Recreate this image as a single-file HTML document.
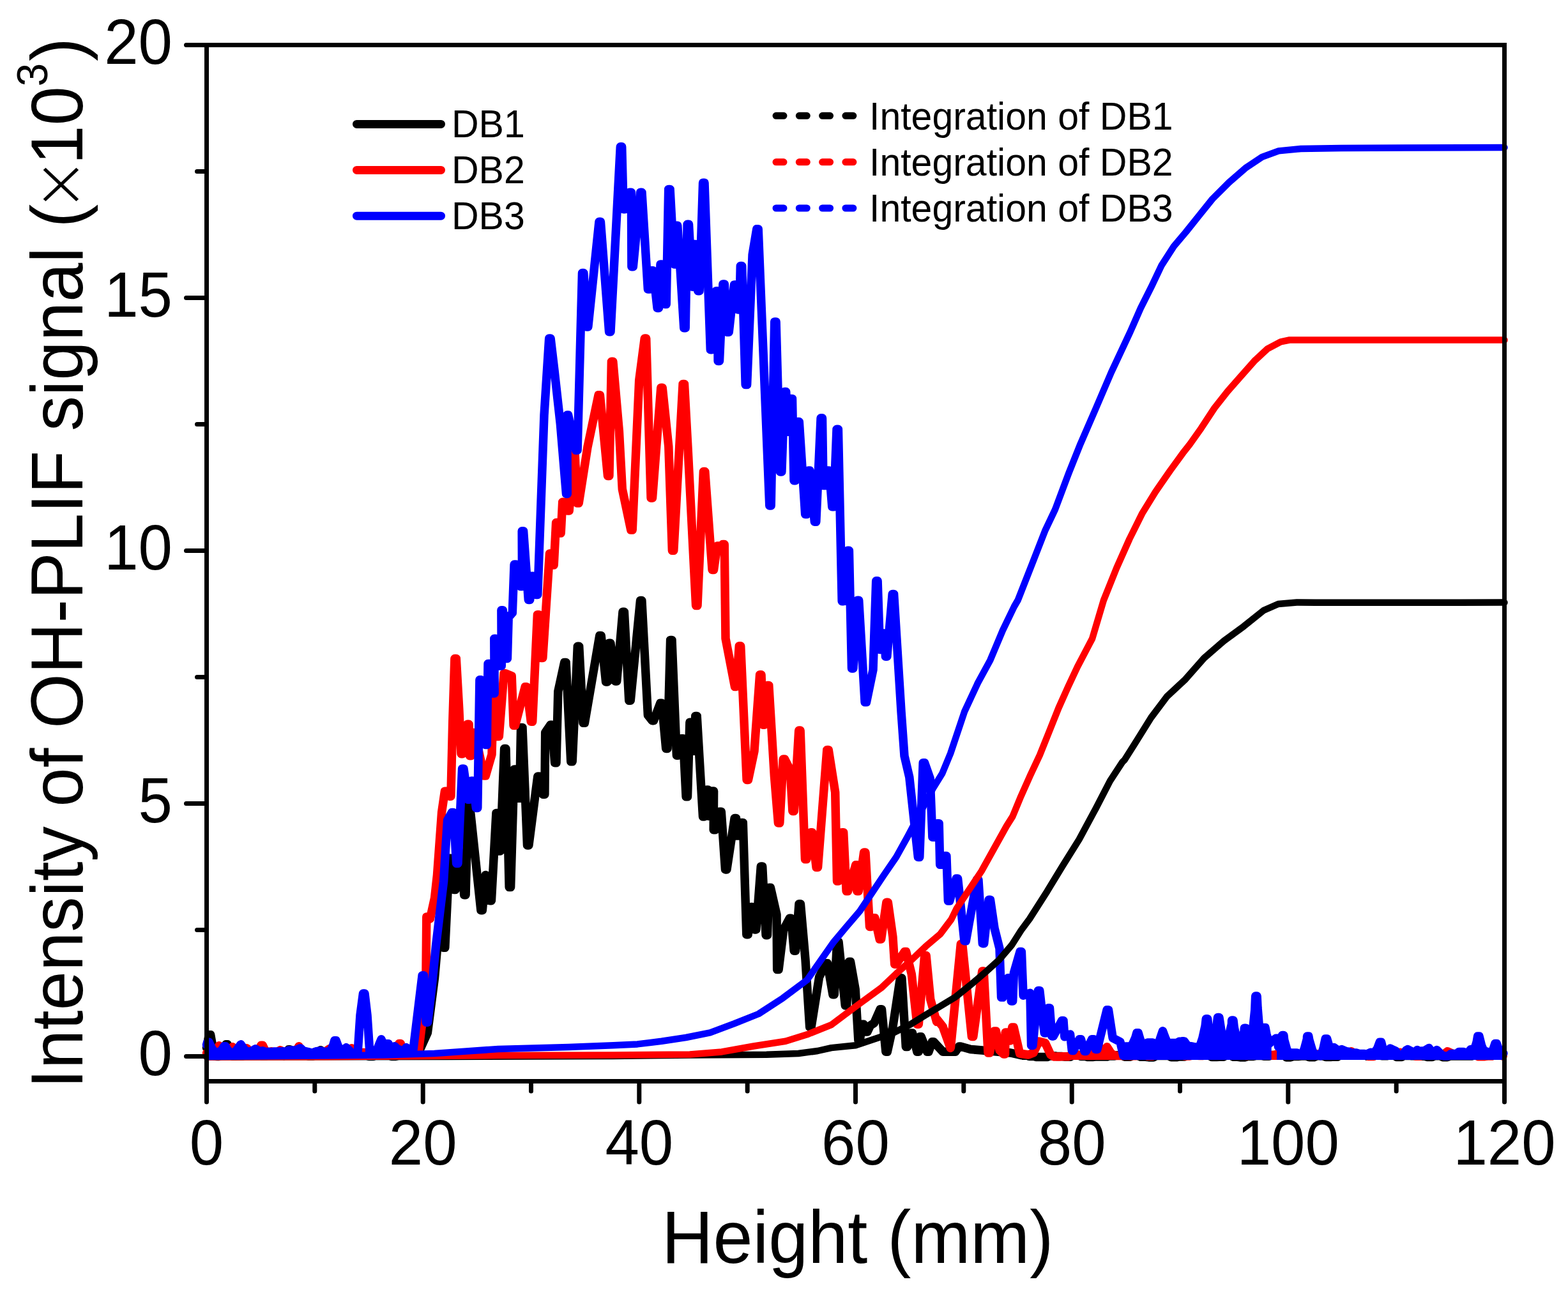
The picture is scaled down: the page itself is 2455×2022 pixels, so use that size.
<!DOCTYPE html><html><head><meta charset="utf-8"><style>html,body{margin:0;padding:0;background:#fff;}svg{display:block}</style></head><body>
<svg width="2455" height="2022" viewBox="0 0 2455 2022" xmlns="http://www.w3.org/2000/svg" font-family="'Liberation Sans', Arial, sans-serif">
<rect width="2455" height="2022" fill="#fff"/>
<path d="M323.5 1641.1 L328.5 1620.8 L332.5 1637.0 L336.5 1654.3 L340.1 1654.4 L343.3 1654.4 L347.5 1651.1 L351.5 1643.0 L355.0 1635.8 L359.7 1646.6 L364.1 1654.2 L367.8 1654.2 L372.3 1654.0 L376.6 1654.0 L380.5 1654.0 L384.5 1652.6 L388.8 1652.6 L392.3 1652.6 L396.4 1652.4 L400.9 1652.4 L404.5 1652.4 L409.0 1653.5 L413.3 1653.5 L417.9 1653.5 L421.6 1652.0 L425.0 1652.0 L429.4 1652.0 L433.9 1650.4 L437.8 1650.4 L441.2 1650.4 L444.7 1653.7 L448.9 1648.8 L453.0 1643.8 L457.3 1647.8 L461.5 1651.3 L465.0 1651.3 L469.2 1652.4 L473.0 1652.4 L477.7 1652.4 L482.4 1653.9 L486.4 1653.9 L490.6 1653.9 L494.9 1650.2 L499.4 1646.7 L502.0 1644.8 L504.2 1646.4 L507.4 1648.4 L511.2 1650.1 L515.4 1650.1 L519.0 1650.6 L523.2 1650.6 L526.5 1650.6 L531.1 1652.9 L535.2 1652.9 L538.6 1652.9 L542.8 1651.8 L546.5 1651.8 L550.0 1651.8 L554.0 1651.3 L557.4 1651.3 L561.0 1651.3 L565.6 1652.3 L569.9 1652.3 L573.1 1652.3 L577.5 1654.6 L580.8 1654.6 L584.5 1654.6 L589.1 1651.3 L593.3 1651.3 L597.0 1651.3 L600.8 1652.1 L604.7 1652.1 L608.1 1652.1 L612.9 1654.4 L616.1 1654.4 L620.0 1654.4 L624.4 1653.1 L628.3 1653.1 L633.0 1653.1 L636.6 1651.3 L636.6 1660.0 L323.5 1660.0 Z" fill="#000"/>
<path d="M1600.0 1652.8 L1603.7 1652.8 L1607.2 1652.8 L1611.4 1654.5 L1614.7 1654.5 L1618.8 1654.5 L1622.6 1655.6 L1625.9 1655.6 L1629.9 1655.6 L1633.1 1655.4 L1637.0 1655.4 L1640.3 1655.4 L1643.7 1653.9 L1647.6 1653.9 L1652.1 1653.9 L1655.5 1654.6 L1659.0 1654.6 L1663.2 1654.6 L1668.0 1655.2 L1672.1 1655.2 L1675.9 1655.2 L1680.7 1652.3 L1683.9 1652.3 L1688.5 1652.3 L1692.2 1654.6 L1695.6 1654.6 L1699.0 1654.6 L1702.7 1655.6 L1707.2 1655.6 L1710.7 1655.6 L1714.8 1655.1 L1719.0 1655.1 L1722.8 1655.1 L1726.9 1655.0 L1730.2 1655.0 L1733.5 1655.0 L1737.0 1653.9 L1741.3 1653.9 L1745.2 1653.9 L1748.9 1652.7 L1753.1 1652.7 L1757.0 1652.7 L1760.7 1655.2 L1765.1 1655.2 L1769.4 1655.2 L1773.0 1653.3 L1777.2 1653.3 L1781.2 1653.3 L1785.8 1655.2 L1790.2 1655.2 L1793.8 1655.2 L1798.6 1655.9 L1802.0 1655.9 L1805.9 1655.9 L1810.3 1653.6 L1813.7 1653.6 L1817.7 1653.6 L1821.0 1653.6 L1825.2 1653.6 L1829.6 1653.6 L1833.8 1655.8 L1838.4 1655.8 L1842.1 1655.8 L1846.4 1654.9 L1850.5 1654.9 L1854.7 1654.9 L1858.6 1652.7 L1863.1 1652.7 L1867.8 1652.7 L1871.8 1652.5 L1876.1 1652.5 L1879.4 1652.5 L1883.7 1652.6 L1887.9 1652.6 L1892.7 1652.6 L1897.2 1655.6 L1900.9 1655.6 L1904.7 1655.6 L1909.0 1655.2 L1912.2 1655.2 L1916.1 1655.2 L1919.6 1652.6 L1923.0 1652.6 L1926.3 1652.6 L1930.7 1655.3 L1934.1 1655.3 L1937.7 1655.3 L1941.5 1655.9 L1946.1 1655.9 L1949.5 1655.9 L1953.4 1654.6 L1957.5 1654.6 L1962.1 1654.6 L1966.6 1653.4 L1971.2 1653.4 L1974.8 1653.4 L1978.7 1654.2 L1982.5 1654.2 L1987.1 1654.2 L1991.8 1652.5 L1995.2 1652.5 L1998.7 1652.5 L2002.3 1652.1 L2005.9 1652.1 L2009.8 1652.1 L2014.0 1655.9 L2017.6 1655.9 L2020.8 1655.9 L2024.7 1654.6 L2028.5 1654.6 L2032.6 1654.6 L2037.3 1654.1 L2041.6 1654.1 L2045.6 1654.1 L2049.8 1655.7 L2054.1 1655.7 L2057.4 1655.7 L2062.0 1653.7 L2066.5 1653.7 L2071.1 1653.7 L2075.6 1655.5 L2079.4 1655.5 L2083.2 1655.5 L2086.6 1655.3 L2090.8 1655.3 L2094.1 1655.3 L2097.4 1652.8 L2100.9 1652.8 L2104.4 1652.8 L2108.2 1653.0 L2111.4 1653.0 L2114.6 1653.0 L2118.1 1653.2 L2121.4 1653.2 L2125.2 1653.2 L2128.5 1653.0 L2133.1 1653.0 L2137.2 1653.0 L2140.7 1654.3 L2144.3 1654.3 L2148.0 1654.3 L2151.8 1653.0 L2155.2 1653.0 L2159.8 1653.0 L2164.6 1653.7 L2168.5 1653.7 L2172.5 1653.7 L2175.8 1652.5 L2179.2 1652.5 L2182.9 1652.5 L2186.6 1655.6 L2191.1 1655.6 L2194.5 1655.6 L2197.8 1653.4 L2202.5 1653.4 L2206.5 1653.4 L2210.0 1653.8 L2214.1 1653.8 L2217.3 1653.8 L2221.3 1654.3 L2226.1 1654.3 L2230.7 1654.3 L2235.0 1655.6 L2238.6 1655.6 L2242.4 1655.6 L2245.9 1653.7 L2250.3 1653.7 L2254.4 1653.7 L2258.8 1655.7 L2262.5 1655.7 L2266.1 1655.7 L2270.6 1654.0 L2275.4 1654.0 L2279.9 1654.0 L2284.4 1654.1 L2288.9 1654.1 L2293.3 1654.1 L2296.9 1654.1 L2300.9 1654.1 L2304.7 1654.1 L2307.9 1652.1 L2311.2 1652.1 L2314.8 1652.1 L2318.4 1653.8 L2322.7 1653.8 L2327.5 1653.8 L2331.4 1652.7 L2336.1 1652.7 L2340.9 1652.7 L2345.6 1652.0 L2349.4 1652.0 L2352.9 1652.0 L2352.9 1660.0 L1600.0 1660.0 Z" fill="#000"/>
<path d="M323.5 1641.1 L327.3 1620.8 L329.7 1620.8 L332.5 1637.0 L336.5 1654.3 L340.1 1654.4 L343.3 1654.4 L347.5 1651.1 L351.5 1643.0 L353.8 1635.8 L356.2 1635.8 L359.7 1646.6 L364.1 1654.2 L367.8 1654.2 L372.3 1654.0 L376.6 1654.0 L380.5 1654.0 L384.5 1652.6 L388.8 1652.6 L392.3 1652.6 L396.4 1652.4 L400.9 1652.4 L404.5 1652.4 L409.0 1653.5 L413.3 1653.5 L417.9 1653.5 L421.6 1652.0 L425.0 1652.0 L429.4 1652.0 L433.9 1650.4 L437.8 1650.4 L441.2 1650.4 L444.7 1653.7 L448.9 1648.8 L451.8 1643.8 L454.2 1643.8 L457.3 1647.8 L461.5 1651.3 L465.0 1651.3 L469.2 1652.4 L473.0 1652.4 L477.7 1652.4 L482.4 1653.9 L486.4 1653.9 L490.6 1653.9 L494.9 1650.2 L499.4 1646.7 L502.0 1644.8 L504.2 1646.4 L507.4 1648.4 L511.2 1650.1 L515.4 1650.1 L519.0 1650.6 L523.2 1650.6 L526.5 1650.6 L531.1 1652.9 L535.2 1652.9 L538.6 1652.9 L542.8 1651.8 L546.5 1651.8 L550.0 1651.8 L554.0 1651.3 L557.4 1651.3 L561.0 1651.3 L565.6 1652.3 L569.9 1652.3 L573.1 1652.3 L577.5 1654.6 L580.8 1654.6 L584.5 1654.6 L589.1 1651.3 L593.3 1651.3 L597.0 1651.3 L600.8 1652.1 L604.7 1652.1 L608.1 1652.1 L612.9 1654.4 L616.1 1654.4 L620.0 1654.4 L624.4 1653.1 L628.3 1653.1 L633.0 1653.1 L636.6 1651.3 L644.2 1650.6 L656.3 1646.6 L669.4 1617.4 L680.5 1531.7 L686.3 1465.2 L688.7 1465.2 L694.4 1484.3 L696.8 1484.3 L703.5 1344.2 L705.9 1344.2 L710.5 1393.6 L712.9 1393.6 L719.6 1336.1 L722.0 1336.1 L726.7 1401.7 L729.1 1401.7 L732.7 1257.5 L735.1 1257.5 L752.9 1425.8 L755.3 1425.8 L760.2 1370.4 L762.1 1371.4 L767.0 1410.7 L769.4 1410.7 L776.9 1273.4 L779.3 1273.4 L780.9 1332.9 L783.3 1332.9 L789.6 1172.6 L792.0 1172.6 L797.2 1389.6 L799.6 1389.6 L805.1 1204.9 L807.5 1204.9 L811.1 1250.2 L813.5 1250.2 L815.6 1139.4 L818.0 1139.4 L825.5 1324.0 L827.9 1324.0 L841.8 1216.0 L844.2 1216.0 L850.5 1244.2 L852.9 1244.2 L853.7 1147.4 L861.9 1135.3 L864.3 1135.3 L868.6 1194.8 L871.0 1194.8 L873.8 1082.9 L883.7 1037.5 L886.1 1037.5 L893.8 1192.8 L896.2 1192.8 L904.3 1012.3 L906.7 1012.3 L913.0 1132.3 L915.4 1132.3 L938.8 995.5 L941.2 995.5 L948.6 1068.0 L951.0 1068.0 L953.5 1007.2 L955.9 1007.2 L963.3 1067.0 L965.7 1067.0 L975.0 958.3 L977.4 958.3 L984.8 1097.3 L987.2 1097.3 L1002.5 940.6 L1004.9 940.6 L1014.4 1120.1 L1021.1 1128.7 L1023.5 1128.7 L1033.8 1101.3 L1036.2 1101.3 L1042.7 1172.4 L1045.1 1172.4 L1049.6 1002.4 L1052.0 1002.4 L1059.4 1183.2 L1061.8 1183.2 L1067.2 1156.7 L1069.6 1156.7 L1074.1 1247.8 L1076.5 1247.8 L1079.9 1131.2 L1082.3 1131.2 L1083.9 1176.3 L1086.3 1176.3 L1088.8 1121.4 L1091.2 1121.4 L1100.5 1279.1 L1102.9 1279.1 L1106.4 1237.0 L1108.8 1237.0 L1109.3 1278.2 L1111.7 1278.2 L1115.2 1239.0 L1117.6 1239.0 L1117.2 1299.7 L1119.6 1299.7 L1126.9 1271.3 L1129.3 1271.3 L1135.5 1361.9 L1137.9 1361.9 L1150.1 1281.5 L1152.5 1281.5 L1154.1 1309.0 L1156.5 1309.0 L1160.9 1288.4 L1163.3 1288.4 L1168.8 1463.7 L1171.2 1463.7 L1175.6 1420.6 L1178.0 1420.6 L1181.5 1455.9 L1183.9 1455.9 L1191.3 1357.0 L1193.7 1357.0 L1199.1 1464.7 L1201.5 1464.7 L1204.0 1390.3 L1206.4 1390.3 L1216.0 1432.4 L1216.7 1518.6 L1219.1 1518.6 L1226.8 1455.9 L1236.3 1438.3 L1238.7 1438.3 L1243.2 1489.2 L1245.6 1489.2 L1251.0 1415.7 L1253.4 1415.7 L1261.0 1502.9 L1267.7 1608.7 L1270.1 1608.7 L1282.6 1530.3 L1293.1 1508.8 L1295.5 1508.8 L1303.9 1557.7 L1306.3 1557.7 L1310.6 1475.0 L1313.0 1475.0 L1323.3 1574.9 L1325.7 1574.9 L1329.2 1506.3 L1331.6 1506.3 L1339.2 1549.4 L1343.9 1629.7 L1346.3 1629.7 L1349.7 1604.2 L1352.1 1604.2 L1355.6 1616.0 L1358.0 1616.0 L1362.7 1606.2 L1368.6 1602.3 L1378.1 1580.7 L1380.5 1580.7 L1386.9 1647.3 L1389.3 1647.3 L1397.9 1608.2 L1409.5 1531.8 L1411.9 1531.8 L1418.3 1639.5 L1420.7 1639.5 L1426.1 1618.0 L1428.5 1618.0 L1435.9 1647.3 L1438.3 1647.3 L1439.8 1623.8 L1442.2 1623.8 L1451.6 1647.3 L1454.0 1647.3 L1459.4 1631.7 L1461.8 1631.7 L1476.3 1647.3 L1495.9 1647.3 L1501.5 1639.0 L1503.9 1639.0 L1519.8 1643.5 L1537.6 1645.0 L1582.4 1649.0 L1600.0 1652.8 L1603.7 1652.8 L1607.2 1652.8 L1611.4 1654.5 L1614.7 1654.5 L1618.8 1654.5 L1622.6 1655.6 L1625.9 1655.6 L1629.9 1655.6 L1633.1 1655.4 L1637.0 1655.4 L1640.3 1655.4 L1643.7 1653.9 L1647.6 1653.9 L1652.1 1653.9 L1655.5 1654.6 L1659.0 1654.6 L1663.2 1654.6 L1668.0 1655.2 L1672.1 1655.2 L1675.9 1655.2 L1680.7 1652.3 L1683.9 1652.3 L1688.5 1652.3 L1692.2 1654.6 L1695.6 1654.6 L1699.0 1654.6 L1702.7 1655.6 L1707.2 1655.6 L1710.7 1655.6 L1714.8 1655.1 L1719.0 1655.1 L1722.8 1655.1 L1726.9 1655.0 L1730.2 1655.0 L1733.5 1655.0 L1737.0 1653.9 L1741.3 1653.9 L1745.2 1653.9 L1748.9 1652.7 L1753.1 1652.7 L1757.0 1652.7 L1760.7 1655.2 L1765.1 1655.2 L1769.4 1655.2 L1773.0 1653.3 L1777.2 1653.3 L1781.2 1653.3 L1785.8 1655.2 L1790.2 1655.2 L1793.8 1655.2 L1798.6 1655.9 L1802.0 1655.9 L1805.9 1655.9 L1810.3 1653.6 L1813.7 1653.6 L1817.7 1653.6 L1821.0 1653.6 L1825.2 1653.6 L1829.6 1653.6 L1833.8 1655.8 L1838.4 1655.8 L1842.1 1655.8 L1846.4 1654.9 L1850.5 1654.9 L1854.7 1654.9 L1858.6 1652.7 L1863.1 1652.7 L1867.8 1652.7 L1871.8 1652.5 L1876.1 1652.5 L1879.4 1652.5 L1883.7 1652.6 L1887.9 1652.6 L1892.7 1652.6 L1897.2 1655.6 L1900.9 1655.6 L1904.7 1655.6 L1909.0 1655.2 L1912.2 1655.2 L1916.1 1655.2 L1919.6 1652.6 L1923.0 1652.6 L1926.3 1652.6 L1930.7 1655.3 L1934.1 1655.3 L1937.7 1655.3 L1941.5 1655.9 L1946.1 1655.9 L1949.5 1655.9 L1953.4 1654.6 L1957.5 1654.6 L1962.1 1654.6 L1966.6 1653.4 L1971.2 1653.4 L1974.8 1653.4 L1978.7 1654.2 L1982.5 1654.2 L1987.1 1654.2 L1991.8 1652.5 L1995.2 1652.5 L1998.7 1652.5 L2002.3 1652.1 L2005.9 1652.1 L2009.8 1652.1 L2014.0 1655.9 L2017.6 1655.9 L2020.8 1655.9 L2024.7 1654.6 L2028.5 1654.6 L2032.6 1654.6 L2037.3 1654.1 L2041.6 1654.1 L2045.6 1654.1 L2049.8 1655.7 L2054.1 1655.7 L2057.4 1655.7 L2062.0 1653.7 L2066.5 1653.7 L2071.1 1653.7 L2075.6 1655.5 L2079.4 1655.5 L2083.2 1655.5 L2086.6 1655.3 L2090.8 1655.3 L2094.1 1655.3 L2097.4 1652.8 L2100.9 1652.8 L2104.4 1652.8 L2108.2 1653.0 L2111.4 1653.0 L2114.6 1653.0 L2118.1 1653.2 L2121.4 1653.2 L2125.2 1653.2 L2128.5 1653.0 L2133.1 1653.0 L2137.2 1653.0 L2140.7 1654.3 L2144.3 1654.3 L2148.0 1654.3 L2151.8 1653.0 L2155.2 1653.0 L2159.8 1653.0 L2164.6 1653.7 L2168.5 1653.7 L2172.5 1653.7 L2175.8 1652.5 L2179.2 1652.5 L2182.9 1652.5 L2186.6 1655.6 L2191.1 1655.6 L2194.5 1655.6 L2197.8 1653.4 L2202.5 1653.4 L2206.5 1653.4 L2210.0 1653.8 L2214.1 1653.8 L2217.3 1653.8 L2221.3 1654.3 L2226.1 1654.3 L2230.7 1654.3 L2235.0 1655.6 L2238.6 1655.6 L2242.4 1655.6 L2245.9 1653.7 L2250.3 1653.7 L2254.4 1653.7 L2258.8 1655.7 L2262.5 1655.7 L2266.1 1655.7 L2270.6 1654.0 L2275.4 1654.0 L2279.9 1654.0 L2284.4 1654.1 L2288.9 1654.1 L2293.3 1654.1 L2296.9 1654.1 L2300.9 1654.1 L2304.7 1654.1 L2307.9 1652.1 L2311.2 1652.1 L2314.8 1652.1 L2318.4 1653.8 L2322.7 1653.8 L2327.5 1653.8 L2331.4 1652.7 L2336.1 1652.7 L2340.9 1652.7 L2345.6 1652.0 L2349.4 1652.0 L2352.9 1652.0" fill="none" stroke="#000" stroke-width="13.5" stroke-linejoin="round" stroke-linecap="round"/>
<path d="M323.5 1649.4 L327.1 1649.4 L330.4 1649.4 L334.3 1652.8 L337.7 1647.7 L341.0 1641.5 L343.0 1637.8 L344.9 1641.1 L349.5 1649.3 L354.0 1651.9 L358.4 1646.9 L362.0 1642.3 L364.0 1639.8 L366.1 1642.4 L369.7 1649.0 L373.2 1652.7 L376.5 1652.7 L380.1 1649.2 L384.8 1643.8 L386.5 1641.8 L389.3 1645.0 L393.8 1651.2 L398.3 1652.1 L401.8 1652.1 L405.5 1644.2 L410.0 1637.2 L414.1 1643.4 L418.6 1648.5 L423.2 1647.2 L425.0 1646.8 L426.6 1647.2 L430.7 1649.2 L435.0 1647.3 L438.7 1644.8 L442.5 1646.6 L446.5 1648.6 L449.8 1648.7 L454.5 1649.9 L459.1 1649.9 L463.2 1645.5 L466.8 1640.8 L468.0 1638.8 L471.5 1644.9 L475.6 1652.1 L480.2 1649.7 L484.8 1649.7 L488.8 1649.7 L492.7 1648.0 L496.8 1648.0 L500.7 1648.0 L504.2 1648.2 L507.9 1648.1 L512.4 1645.0 L515.6 1642.8 L518.9 1645.3 L523.1 1648.5 L526.7 1651.9 L530.8 1651.9 L534.8 1651.9 L538.5 1649.8 L543.3 1649.2 L546.8 1645.7 L550.7 1641.8 L554.2 1645.1 L558.4 1649.2 L562.1 1648.5 L565.8 1648.5 L570.2 1648.5 L573.9 1652.9 L578.0 1652.9 L582.7 1652.9 L586.0 1650.1 L589.3 1650.1 L592.9 1650.1 L597.3 1649.0 L601.5 1649.0 L605.1 1649.0 L608.8 1648.3 L612.3 1648.3 L616.2 1648.3 L619.5 1648.3 L623.8 1643.1 L627.5 1638.8 L633.2 1645.9 L637.6 1648.8 L637.6 1660.0 L323.5 1660.0 Z" fill="#f00"/>
<path d="M1650.0 1654.9 L1654.2 1654.9 L1658.6 1654.9 L1663.1 1654.8 L1667.8 1654.8 L1672.1 1654.8 L1676.8 1652.6 L1680.1 1652.6 L1684.0 1652.6 L1688.7 1652.6 L1693.0 1652.6 L1697.6 1652.6 L1701.0 1650.8 L1704.9 1650.8 L1708.5 1650.8 L1712.6 1644.6 L1717.6 1628.8 L1719.9 1636.2 L1723.5 1647.8 L1727.1 1651.1 L1731.8 1642.4 L1733.2 1639.8 L1736.2 1644.5 L1739.7 1650.0 L1744.2 1652.4 L1747.6 1653.5 L1751.8 1653.5 L1755.2 1653.5 L1758.4 1653.6 L1763.0 1653.6 L1766.5 1653.6 L1770.0 1653.7 L1774.8 1653.7 L1779.4 1653.7 L1783.1 1650.9 L1787.8 1650.9 L1791.9 1650.9 L1796.2 1653.9 L1799.7 1653.9 L1804.4 1653.9 L1808.7 1650.4 L1814.4 1644.3 L1818.1 1648.3 L1821.8 1652.6 L1825.5 1653.3 L1829.0 1653.3 L1832.4 1652.1 L1835.7 1652.1 L1839.4 1652.1 L1843.6 1653.1 L1846.8 1653.1 L1851.1 1653.1 L1854.8 1653.9 L1858.5 1653.9 L1863.0 1653.9 L1867.0 1653.2 L1870.7 1653.2 L1874.7 1653.2 L1879.0 1653.6 L1882.3 1653.6 L1887.0 1650.8 L1890.3 1644.2 L1893.3 1640.7 L1894.7 1642.3 L1899.2 1647.7 L1902.5 1650.8 L1906.9 1650.8 L1910.7 1650.8 L1914.8 1652.2 L1918.0 1652.2 L1921.3 1652.2 L1924.8 1653.3 L1929.5 1653.3 L1933.1 1653.3 L1937.5 1651.1 L1942.1 1651.1 L1946.9 1651.1 L1950.6 1653.4 L1954.4 1653.4 L1958.4 1650.0 L1962.9 1641.1 L1964.7 1637.5 L1966.2 1640.5 L1970.6 1649.1 L1975.1 1650.2 L1979.7 1650.2 L1982.9 1650.2 L1987.6 1652.4 L1991.0 1652.4 L1994.7 1652.4 L1998.9 1651.1 L2003.6 1651.1 L2007.3 1651.1 L2012.0 1650.3 L2016.1 1650.3 L2019.8 1650.3 L2023.5 1650.7 L2027.0 1650.7 L2030.3 1650.7 L2033.7 1651.6 L2038.0 1651.6 L2042.8 1651.6 L2046.3 1650.9 L2049.6 1650.9 L2054.3 1650.9 L2058.4 1651.0 L2062.2 1651.0 L2065.8 1651.0 L2070.0 1650.2 L2074.5 1650.2 L2078.4 1650.2 L2082.3 1652.3 L2085.6 1652.3 L2090.3 1652.3 L2093.5 1651.9 L2097.5 1651.9 L2102.0 1651.9 L2105.5 1653.1 L2109.8 1651.5 L2114.5 1647.8 L2115.9 1646.8 L2118.8 1649.0 L2123.2 1652.4 L2126.6 1653.0 L2130.5 1651.2 L2133.9 1651.2 L2138.5 1651.2 L2142.1 1654.5 L2146.1 1654.5 L2150.9 1654.5 L2155.4 1650.0 L2160.2 1650.0 L2164.1 1650.0 L2168.1 1652.0 L2172.5 1652.0 L2176.4 1652.0 L2180.1 1651.4 L2183.9 1651.3 L2187.4 1649.9 L2191.8 1648.2 L2196.0 1650.2 L2200.7 1652.1 L2204.9 1650.6 L2208.9 1650.6 L2212.6 1650.6 L2216.0 1654.2 L2219.6 1654.2 L2224.1 1654.2 L2228.7 1651.9 L2232.4 1651.9 L2236.9 1651.9 L2241.3 1650.2 L2245.6 1650.2 L2249.9 1650.2 L2254.3 1653.1 L2258.1 1653.1 L2262.4 1649.7 L2266.2 1646.8 L2270.1 1648.5 L2274.5 1650.5 L2278.8 1652.7 L2282.5 1652.7 L2287.2 1652.7 L2291.4 1651.7 L2295.5 1651.7 L2298.8 1651.7 L2302.8 1652.9 L2306.4 1652.9 L2310.7 1652.9 L2314.7 1654.8 L2319.2 1654.8 L2323.4 1654.8 L2327.9 1654.1 L2331.6 1654.1 L2335.9 1654.1 L2340.2 1652.1 L2344.8 1652.1 L2348.5 1652.1 L2353.1 1654.1 L2353.1 1660.0 L1650.0 1660.0 Z" fill="#f00"/>
<path d="M323.5 1649.4 L327.1 1649.4 L330.4 1649.4 L334.3 1652.8 L337.7 1647.7 L341.0 1641.5 L343.0 1637.8 L344.9 1641.1 L349.5 1649.3 L354.0 1651.9 L358.4 1646.9 L362.0 1642.3 L364.0 1639.8 L366.1 1642.4 L369.7 1649.0 L373.2 1652.7 L376.5 1652.7 L380.1 1649.2 L384.8 1643.8 L386.5 1641.8 L389.3 1645.0 L393.8 1651.2 L398.3 1652.1 L401.8 1652.1 L405.5 1644.2 L408.8 1637.2 L411.2 1637.2 L414.1 1643.4 L418.6 1648.5 L423.2 1647.2 L425.0 1646.8 L426.6 1647.2 L430.7 1649.2 L435.0 1647.3 L438.7 1644.8 L442.5 1646.6 L446.5 1648.6 L449.8 1648.7 L454.5 1649.9 L459.1 1649.9 L463.2 1645.5 L466.8 1640.8 L468.0 1638.8 L471.5 1644.9 L475.6 1652.1 L480.2 1649.7 L484.8 1649.7 L488.8 1649.7 L492.7 1648.0 L496.8 1648.0 L500.7 1648.0 L504.2 1648.2 L507.9 1648.1 L512.4 1645.0 L515.6 1642.8 L518.9 1645.3 L523.1 1648.5 L526.7 1651.9 L530.8 1651.9 L534.8 1651.9 L538.5 1649.8 L543.3 1649.2 L546.8 1645.7 L550.7 1641.8 L554.2 1645.1 L558.4 1649.2 L562.1 1648.5 L565.8 1648.5 L570.2 1648.5 L573.9 1652.9 L578.0 1652.9 L582.7 1652.9 L586.0 1650.1 L589.3 1650.1 L592.9 1650.1 L597.3 1649.0 L601.5 1649.0 L605.1 1649.0 L608.8 1648.3 L612.3 1648.3 L616.2 1648.3 L619.5 1648.3 L619.6 1638.5 L621.2 1638.5 L622.6 1643.1 L625.0 1643.1 L624.8 1634.5 L627.2 1634.5 L627.5 1638.8 L632.1 1644.6 L633.2 1645.9 L637.6 1648.8 L655.3 1647.6 L663.3 1582.1 L667.0 1521.6 L667.8 1435.9 L673.4 1439.0 L680.5 1406.7 L684.5 1370.4 L691.6 1272.4 L696.4 1239.2 L698.8 1239.2 L703.5 1247.2 L705.9 1247.2 L708.7 1131.3 L711.9 1031.5 L714.3 1031.5 L718.8 1111.1 L722.0 1180.7 L724.4 1180.7 L731.7 1134.3 L734.1 1134.3 L735.3 1183.7 L737.7 1183.7 L740.8 1147.4 L743.2 1147.4 L757.9 1215.0 L760.3 1215.0 L770.0 1181.7 L772.8 1082.9 L775.2 1082.9 L778.9 1153.5 L781.3 1153.5 L789.0 1054.7 L791.4 1054.7 L801.2 1058.7 L804.1 1136.3 L806.5 1136.3 L822.2 1075.8 L824.6 1075.8 L831.3 1130.3 L833.7 1130.3 L841.4 962.7 L843.8 962.7 L847.4 1030.5 L849.8 1030.5 L860.5 867.0 L862.9 867.0 L864.8 885.0 L867.2 885.0 L870.6 818.6 L873.0 818.6 L875.8 835.0 L878.2 835.0 L880.7 786.3 L883.1 786.3 L888.8 800.0 L891.2 800.0 L897.8 712.0 L900.2 712.0 L903.8 788.0 L906.2 788.0 L920.0 700.0 L937.0 618.8 L939.4 618.8 L951.5 745.4 L953.9 745.4 L957.4 566.2 L959.8 566.2 L969.4 675.9 L974.3 766.0 L987.8 830.0 L990.2 830.0 L1000.7 595.6 L1009.3 530.0 L1011.7 530.0 L1019.1 780.0 L1021.5 780.0 L1034.8 607.3 L1037.2 607.3 L1046.8 699.4 L1052.4 862.3 L1054.8 862.3 L1069.1 601.4 L1071.5 601.4 L1077.1 703.3 L1089.6 948.5 L1092.0 948.5 L1101.4 738.6 L1103.8 738.6 L1115.1 892.6 L1117.5 892.6 L1122.8 855.0 L1125.2 855.0 L1126.8 862.0 L1129.2 862.0 L1131.8 852.5 L1134.2 852.5 L1136.0 1000.0 L1150.5 1075.4 L1152.9 1075.4 L1157.3 1011.8 L1159.7 1011.8 L1169.1 1221.4 L1171.5 1221.4 L1181.0 1176.3 L1189.6 1056.8 L1192.0 1056.8 L1194.5 1135.2 L1196.9 1135.2 L1201.4 1073.5 L1203.8 1073.5 L1212.4 1215.5 L1218.4 1289.0 L1220.8 1289.0 L1226.2 1189.1 L1228.6 1189.1 L1237.2 1205.8 L1240.9 1270.4 L1243.3 1270.4 L1250.7 1144.1 L1253.1 1144.1 L1260.5 1345.8 L1262.9 1345.8 L1269.3 1303.7 L1271.7 1303.7 L1278.1 1358.6 L1280.5 1358.6 L1294.8 1174.4 L1297.2 1174.4 L1307.7 1241.0 L1310.5 1380.1 L1312.9 1380.1 L1318.3 1303.7 L1320.7 1303.7 L1325.1 1395.8 L1327.5 1395.8 L1339.8 1354.7 L1342.2 1354.7 L1341.8 1395.8 L1344.2 1395.8 L1352.6 1335.1 L1355.0 1335.1 L1361.5 1451.4 L1363.9 1451.4 L1367.4 1437.7 L1369.8 1437.7 L1377.2 1471.0 L1379.6 1471.0 L1387.9 1413.3 L1390.3 1413.3 L1397.9 1467.1 L1400.7 1510.2 L1403.1 1510.2 L1416.3 1490.6 L1418.7 1490.6 L1427.3 1525.9 L1435.9 1604.2 L1438.3 1604.2 L1447.7 1496.5 L1450.1 1496.5 L1456.7 1565.1 L1466.5 1600.3 L1467.1 1596.5 L1476.3 1608.2 L1477.1 1610.8 L1488.1 1641.5 L1488.5 1640.0 L1504.3 1478.4 L1506.7 1478.4 L1521.4 1623.6 L1523.8 1623.6 L1537.8 1521.1 L1540.2 1521.1 L1547.0 1649.0 L1549.4 1649.0 L1557.0 1615.0 L1559.4 1615.0 L1565.0 1645.0 L1571.2 1651.0 L1573.6 1651.0 L1574.1 1617.0 L1576.5 1617.0 L1578.8 1630.0 L1581.2 1630.0 L1584.8 1609.0 L1587.2 1609.0 L1596.6 1650.0 L1610.0 1652.0 L1618.0 1649.0 L1626.5 1631.0 L1636.5 1633.5 L1645.0 1652.0 L1650.0 1654.9 L1654.2 1654.9 L1658.6 1654.9 L1663.1 1654.8 L1667.8 1654.8 L1672.1 1654.8 L1676.8 1652.6 L1680.1 1652.6 L1684.0 1652.6 L1688.7 1652.6 L1693.0 1652.6 L1697.6 1652.6 L1701.0 1650.8 L1704.9 1650.8 L1708.5 1650.8 L1712.6 1644.6 L1716.4 1628.8 L1718.8 1628.8 L1719.9 1636.2 L1723.5 1647.8 L1727.1 1651.1 L1731.8 1642.4 L1733.2 1639.8 L1736.2 1644.5 L1739.7 1650.0 L1744.2 1652.4 L1747.6 1653.5 L1751.8 1653.5 L1755.2 1653.5 L1758.4 1653.6 L1763.0 1653.6 L1766.5 1653.6 L1770.0 1653.7 L1774.8 1653.7 L1779.4 1653.7 L1783.1 1650.9 L1787.8 1650.9 L1791.9 1650.9 L1796.2 1653.9 L1799.7 1653.9 L1804.4 1653.9 L1808.7 1650.4 L1814.4 1644.3 L1818.1 1648.3 L1821.8 1652.6 L1825.5 1653.3 L1829.0 1653.3 L1832.4 1652.1 L1835.7 1652.1 L1839.4 1652.1 L1843.6 1653.1 L1846.8 1653.1 L1851.1 1653.1 L1854.8 1653.9 L1858.5 1653.9 L1863.0 1653.9 L1867.0 1653.2 L1870.7 1653.2 L1874.7 1653.2 L1879.0 1653.6 L1882.3 1653.6 L1887.0 1650.8 L1890.3 1644.2 L1893.3 1640.7 L1894.7 1642.3 L1899.2 1647.7 L1902.5 1650.8 L1906.9 1650.8 L1910.7 1650.8 L1914.8 1652.2 L1918.0 1652.2 L1921.3 1652.2 L1924.8 1653.3 L1929.5 1653.3 L1933.1 1653.3 L1937.5 1651.1 L1942.1 1651.1 L1946.9 1651.1 L1950.6 1653.4 L1954.4 1653.4 L1958.4 1650.0 L1962.9 1641.1 L1964.7 1637.5 L1966.2 1640.5 L1970.6 1649.1 L1975.1 1650.2 L1979.7 1650.2 L1982.9 1650.2 L1987.6 1652.4 L1991.0 1652.4 L1994.7 1652.4 L1998.9 1651.1 L2003.6 1651.1 L2007.3 1651.1 L2012.0 1650.3 L2016.1 1650.3 L2019.8 1650.3 L2023.5 1650.7 L2027.0 1650.7 L2030.3 1650.7 L2033.7 1651.6 L2038.0 1651.6 L2042.8 1651.6 L2046.3 1650.9 L2049.6 1650.9 L2054.3 1650.9 L2058.4 1651.0 L2062.2 1651.0 L2065.8 1651.0 L2070.0 1650.2 L2074.5 1650.2 L2078.4 1650.2 L2082.3 1652.3 L2085.6 1652.3 L2090.3 1652.3 L2093.5 1651.9 L2097.5 1651.9 L2102.0 1651.9 L2105.5 1653.1 L2109.8 1651.5 L2114.5 1647.8 L2115.9 1646.8 L2118.8 1649.0 L2123.2 1652.4 L2126.6 1653.0 L2130.5 1651.2 L2133.9 1651.2 L2138.5 1651.2 L2142.1 1654.5 L2146.1 1654.5 L2150.9 1654.5 L2155.4 1650.0 L2160.2 1650.0 L2164.1 1650.0 L2168.1 1652.0 L2172.5 1652.0 L2176.4 1652.0 L2180.1 1651.4 L2183.9 1651.3 L2187.4 1649.9 L2191.8 1648.2 L2196.0 1650.2 L2200.7 1652.1 L2204.9 1650.6 L2208.9 1650.6 L2212.6 1650.6 L2216.0 1654.2 L2219.6 1654.2 L2224.1 1654.2 L2228.7 1651.9 L2232.4 1651.9 L2236.9 1651.9 L2241.3 1650.2 L2245.6 1650.2 L2249.9 1650.2 L2254.3 1653.1 L2258.1 1653.1 L2262.4 1649.7 L2266.2 1646.8 L2270.1 1648.5 L2274.5 1650.5 L2278.8 1652.7 L2282.5 1652.7 L2287.2 1652.7 L2291.4 1651.7 L2295.5 1651.7 L2298.8 1651.7 L2302.8 1652.9 L2306.4 1652.9 L2310.7 1652.9 L2314.7 1654.8 L2319.2 1654.8 L2323.4 1654.8 L2327.9 1654.1 L2331.6 1654.1 L2335.9 1654.1 L2340.2 1652.1 L2344.8 1652.1 L2348.5 1652.1 L2353.1 1654.1" fill="none" stroke="#f00" stroke-width="13.5" stroke-linejoin="round" stroke-linecap="round"/>
<path d="M323.5 1636.5 L326.0 1632.2 L331.5 1641.6 L335.9 1647.7 L339.5 1647.7 L343.5 1647.7 L347.4 1644.3 L352.0 1638.8 L356.1 1643.8 L359.5 1647.7 L362.7 1648.4 L367.3 1648.4 L371.1 1643.9 L375.6 1637.7 L377.0 1635.8 L378.8 1638.2 L382.7 1643.9 L387.0 1647.2 L390.6 1647.2 L395.3 1645.6 L400.0 1642.8 L403.2 1644.7 L406.4 1647.5 L411.0 1645.8 L415.2 1647.4 L419.0 1647.6 L422.6 1647.6 L426.4 1647.6 L429.7 1647.0 L433.2 1647.0 L437.1 1646.9 L441.1 1646.9 L443.0 1646.8 L444.7 1646.9 L448.3 1647.2 L451.8 1645.1 L455.8 1645.1 L459.4 1645.1 L462.7 1644.9 L467.2 1643.0 L470.0 1641.8 L471.3 1642.3 L475.5 1646.4 L479.0 1646.8 L483.8 1647.8 L488.4 1649.4 L491.8 1648.0 L495.0 1646.8 L499.9 1646.3 L502.0 1645.8 L504.2 1646.4 L508.9 1647.7 L512.8 1647.0 L517.3 1646.3 L521.6 1637.1 L525.0 1629.8 L529.4 1638.6 L534.0 1645.8 L538.6 1643.7 L542.0 1640.8 L546.7 1644.7 L550.0 1649.9 L553.6 1649.9 L553.6 1660.0 L323.5 1660.0 Z" fill="#00f"/>
<path d="M582.0 1647.7 L586.7 1647.7 L591.4 1641.6 L594.7 1633.3 L597.0 1627.8 L598.1 1630.4 L602.6 1641.4 L607.0 1634.8 L611.3 1640.9 L615.0 1641.6 L618.0 1638.8 L619.1 1639.7 L623.3 1643.0 L627.4 1645.1 L630.9 1644.5 L635.0 1643.8 L638.6 1644.4 L643.0 1647.3 L643.0 1660.0 L582.0 1660.0 Z" fill="#00f"/>
<path d="M1762.0 1639.1 L1765.6 1639.1 L1769.7 1639.1 L1773.4 1635.1 L1777.6 1625.6 L1781.0 1617.8 L1785.1 1627.9 L1788.3 1635.8 L1792.9 1637.4 L1796.5 1632.9 L1800.1 1632.9 L1804.9 1632.9 L1808.8 1638.5 L1813.4 1635.8 L1817.3 1624.1 L1820.5 1614.8 L1821.5 1617.7 L1825.0 1626.9 L1829.2 1636.2 L1833.8 1633.6 L1837.8 1633.6 L1842.2 1633.6 L1846.5 1631.3 L1849.8 1631.0 L1852.3 1630.7 L1854.2 1630.9 L1858.3 1636.7 L1862.0 1638.7 L1865.3 1638.7 L1869.9 1639.9 L1873.8 1639.9 L1878.2 1639.9 L1882.8 1626.2 L1887.1 1606.7 L1889.5 1595.8 L1891.8 1606.0 L1895.6 1628.1 L1900.1 1636.2 L1904.0 1614.4 L1907.7 1593.5 L1913.3 1622.2 L1916.7 1634.7 L1920.1 1632.4 L1923.6 1624.3 L1928.4 1604.0 L1929.8 1598.1 L1932.3 1609.3 L1936.5 1628.0 L1940.2 1633.6 L1944.2 1628.6 L1948.0 1615.4 L1949.5 1610.2 L1951.8 1618.1 L1955.9 1633.1 L1960.0 1628.3 L1964.7 1582.5 L1966.9 1560.1 L1969.0 1578.1 L1973.6 1619.8 L1978.2 1614.0 L1979.8 1609.5 L1983.0 1620.1 L1987.3 1634.6 L1990.7 1631.2 L1990.7 1660.0 L1762.0 1660.0 Z" fill="#00f"/>
<path d="M1999.0 1626.2 L2002.6 1639.5 L2007.3 1626.0 L2008.7 1621.6 L2010.7 1628.8 L2015.0 1644.3 L2018.4 1650.2 L2022.0 1648.9 L2026.8 1648.9 L2030.3 1648.9 L2034.5 1652.5 L2038.5 1652.5 L2042.4 1642.2 L2046.4 1627.2 L2047.6 1623.1 L2049.9 1628.9 L2054.4 1644.2 L2057.8 1651.7 L2061.3 1651.7 L2064.6 1651.7 L2068.2 1653.8 L2072.0 1641.7 L2076.4 1626.9 L2080.5 1636.9 L2083.9 1644.1 L2087.5 1641.4 L2088.6 1640.6 L2092.3 1643.2 L2095.6 1645.2 L2100.7 1643.6 L2103.6 1644.9 L2107.8 1646.7 L2111.6 1647.1 L2115.9 1649.1 L2119.9 1649.1 L2124.1 1649.1 L2128.8 1650.6 L2132.9 1650.6 L2136.3 1650.6 L2139.6 1651.3 L2144.3 1649.1 L2146.3 1648.2 L2148.3 1649.2 L2151.8 1648.6 L2156.5 1642.4 L2161.4 1632.3 L2165.0 1641.9 L2169.6 1652.3 L2173.3 1646.9 L2176.6 1642.1 L2181.7 1644.6 L2185.1 1646.0 L2189.5 1652.7 L2192.9 1652.7 L2197.2 1651.3 L2201.5 1644.9 L2203.9 1643.6 L2206.2 1644.8 L2210.8 1647.1 L2214.8 1649.1 L2219.1 1644.4 L2221.7 1647.2 L2225.8 1645.9 L2229.8 1646.0 L2233.1 1644.0 L2237.3 1641.4 L2241.8 1648.2 L2246.1 1648.4 L2249.5 1644.4 L2253.2 1648.0 L2256.4 1651.1 L2260.2 1653.9 L2263.8 1653.9 L2267.7 1653.9 L2271.5 1650.6 L2276.0 1650.6 L2280.7 1650.6 L2284.1 1647.4 L2288.0 1647.4 L2291.4 1647.4 L2295.7 1652.4 L2300.5 1646.4 L2302.6 1643.6 L2304.0 1645.4 L2308.4 1644.1 L2312.1 1632.0 L2314.8 1623.1 L2319.7 1637.8 L2323.5 1646.7 L2327.0 1646.7 L2330.8 1650.8 L2334.4 1650.2 L2338.3 1642.3 L2342.1 1634.5 L2346.1 1642.2 L2350.2 1650.0 L2353.9 1649.8 L2353.9 1660.0 L1999.0 1660.0 Z" fill="#00f"/>
<path d="M323.5 1636.5 L324.8 1632.2 L327.2 1632.2 L331.5 1641.6 L335.9 1647.7 L339.5 1647.7 L343.5 1647.7 L347.4 1644.3 L350.8 1638.8 L353.2 1638.8 L356.1 1643.8 L359.5 1647.7 L362.7 1648.4 L367.3 1648.4 L371.1 1643.9 L375.6 1637.7 L377.0 1635.8 L378.8 1638.2 L382.7 1643.9 L387.0 1647.2 L390.6 1647.2 L395.3 1645.6 L400.0 1642.8 L403.2 1644.7 L406.4 1647.5 L411.0 1645.8 L415.2 1647.4 L419.0 1647.6 L422.6 1647.6 L426.4 1647.6 L429.7 1647.0 L433.2 1647.0 L437.1 1646.9 L441.1 1646.9 L443.0 1646.8 L444.7 1646.9 L448.3 1647.2 L451.8 1645.1 L455.8 1645.1 L459.4 1645.1 L462.7 1644.9 L467.2 1643.0 L470.0 1641.8 L471.3 1642.3 L475.5 1646.4 L479.0 1646.8 L483.8 1647.8 L488.4 1649.4 L491.8 1648.0 L495.0 1646.8 L499.9 1646.3 L502.0 1645.8 L504.2 1646.4 L508.9 1647.7 L512.8 1647.0 L517.3 1646.3 L521.6 1637.1 L523.8 1629.8 L526.2 1629.8 L529.4 1638.6 L534.0 1645.8 L538.6 1643.7 L542.0 1640.8 L546.7 1644.7 L550.0 1649.9 L553.6 1649.9 L560.0 1650.0 L564.0 1590.0 L568.5 1556.0 L571.0 1556.0 L575.0 1590.0 L579.0 1650.0 L582.0 1647.7 L586.7 1647.7 L591.4 1641.6 L594.7 1633.3 L597.0 1627.8 L598.1 1630.4 L601.4 1641.4 L603.8 1641.4 L605.8 1634.8 L608.2 1634.8 L611.3 1640.9 L615.0 1641.6 L618.0 1638.8 L619.1 1639.7 L620.0 1642.6 L623.3 1643.0 L627.4 1645.1 L627.5 1650.6 L629.3 1650.6 L630.9 1644.5 L635.0 1643.8 L636.1 1640.6 L638.6 1644.4 L643.0 1647.3 L646.2 1650.6 L661.1 1527.7 L663.5 1527.7 L667.2 1601.2 L669.6 1601.2 L676.5 1541.8 L682.5 1481.3 L688.5 1430.9 L694.6 1380.5 L697.6 1330.1 L700.6 1284.5 L707.5 1272.4 L709.9 1272.4 L714.6 1352.3 L717.0 1352.3 L723.6 1203.9 L726.0 1203.9 L732.7 1252.3 L735.1 1252.3 L737.8 1223.0 L740.2 1223.0 L745.4 1265.4 L747.8 1265.4 L750.9 1064.8 L753.3 1064.8 L759.9 1166.6 L762.3 1166.6 L764.0 1039.6 L766.4 1039.6 L771.8 1085.9 L774.2 1085.9 L773.8 1000.2 L776.2 1000.2 L778.9 1030.5 L781.3 1030.5 L780.9 1010.3 L783.3 1010.3 L782.9 1043.0 L785.3 1043.0 L784.9 955.7 L787.3 955.7 L792.0 1031.5 L794.4 1031.5 L796.2 966.8 L802.3 959.9 L805.1 884.1 L807.5 884.1 L815.2 918.4 L817.6 918.4 L817.2 831.7 L819.6 831.7 L827.3 939.6 L829.7 939.6 L832.3 902.3 L834.7 902.3 L839.4 931.5 L841.8 931.5 L852.0 650.0 L859.7 530.0 L862.1 530.0 L868.0 580.0 L877.3 663.7 L886.5 773.6 L888.3 773.6 L887.8 649.9 L889.6 649.9 L901.7 705.2 L904.1 705.2 L911.5 427.6 L913.9 427.6 L918.4 511.9 L920.8 511.9 L938.0 347.3 L940.4 347.3 L953.6 519.7 L956.0 519.7 L971.3 229.8 L973.7 229.8 L976.2 327.7 L978.6 327.7 L986.0 301.3 L988.4 301.3 L988.9 417.8 L991.3 417.8 L1002.6 301.3 L1005.0 301.3 L1014.4 453.1 L1016.8 453.1 L1020.2 423.7 L1022.6 423.7 L1029.1 482.5 L1031.5 482.5 L1034.0 413.9 L1036.4 413.9 L1040.8 476.6 L1043.2 476.6 L1046.7 296.4 L1049.1 296.4 L1055.5 413.9 L1057.9 413.9 L1058.4 353.2 L1060.8 353.2 L1070.8 513.8 L1073.2 513.8 L1076.1 351.2 L1078.5 351.2 L1083.9 449.2 L1086.3 449.2 L1086.9 382.6 L1089.3 382.6 L1092.7 455.7 L1095.1 455.7 L1100.6 286.2 L1103.0 286.2 L1112.3 547.7 L1114.7 547.7 L1121.1 455.7 L1123.5 455.7 L1124.1 565.4 L1126.5 565.4 L1131.9 444.9 L1134.3 444.9 L1138.8 520.3 L1141.2 520.3 L1149.5 445.9 L1151.9 445.9 L1155.4 485.1 L1157.8 485.1 L1159.3 416.5 L1161.7 416.5 L1167.2 602.6 L1169.6 602.6 L1178.1 398.9 L1184.8 358.7 L1187.2 358.7 L1204.8 791.9 L1207.2 791.9 L1212.7 503.9 L1215.1 503.9 L1221.5 739.0 L1223.9 739.0 L1228.3 613.6 L1230.7 613.6 L1233.2 676.3 L1235.6 676.3 L1238.1 624.4 L1240.5 624.4 L1243.0 752.7 L1245.4 752.7 L1248.9 660.6 L1251.3 660.6 L1260.7 805.6 L1263.1 805.6 L1265.6 737.0 L1268.0 737.0 L1275.4 817.3 L1277.8 817.3 L1285.1 654.8 L1287.5 654.8 L1289.1 760.5 L1291.5 760.5 L1295.9 737.0 L1298.3 737.0 L1302.8 793.8 L1305.2 793.8 L1310.0 672.3 L1312.4 672.3 L1318.2 941.7 L1320.6 941.7 L1327.0 862.3 L1329.4 862.3 L1333.5 1046.9 L1335.9 1046.9 L1342.3 940.2 L1344.7 940.2 L1354.1 1099.8 L1356.5 1099.8 L1367.0 1048.9 L1371.7 909.8 L1374.1 909.8 L1377.6 1017.5 L1380.0 1017.5 L1383.4 992.1 L1385.8 992.1 L1386.4 1028.3 L1388.8 1028.3 L1397.2 930.4 L1399.6 930.4 L1406.2 1037.1 L1411.1 1115.5 L1416.0 1184.0 L1423.8 1217.3 L1437.4 1342.6 L1439.8 1342.6 L1445.2 1194.7 L1447.6 1194.7 L1456.2 1219.2 L1459.9 1311.2 L1462.3 1311.2 L1467.8 1289.7 L1470.2 1289.7 L1471.7 1354.3 L1474.1 1354.3 L1479.5 1340.6 L1481.9 1340.6 L1484.4 1411.1 L1486.8 1411.1 L1497.2 1375.9 L1499.6 1375.9 L1509.9 1473.8 L1512.3 1473.8 L1529.5 1377.8 L1531.9 1377.8 L1538.3 1477.7 L1540.7 1477.7 L1548.1 1409.2 L1550.5 1409.2 L1557.1 1454.2 L1565.0 1485.6 L1567.6 1562.1 L1570.0 1562.1 L1578.4 1531.8 L1580.8 1531.8 L1583.3 1568.0 L1585.7 1568.0 L1587.4 1523.9 L1597.0 1490.6 L1599.4 1490.6 L1602.1 1559.2 L1612.9 1555.3 L1614.6 1637.5 L1617.0 1637.5 L1625.4 1551.4 L1627.8 1551.4 L1635.2 1618.0 L1637.6 1618.0 L1641.1 1578.8 L1643.5 1578.8 L1646.9 1622.9 L1649.3 1622.9 L1662.6 1598.4 L1665.0 1598.4 L1666.8 1623.8 L1675.6 1619.9 L1678.3 1645.4 L1680.7 1645.4 L1690.0 1627.7 L1692.4 1627.7 L1697.9 1646.4 L1700.3 1646.4 L1709.6 1627.7 L1712.0 1627.7 L1715.5 1643.4 L1717.9 1643.4 L1733.1 1581.7 L1735.5 1581.7 L1742.2 1625.8 L1753.9 1631.7 L1758.8 1653.2 L1761.2 1653.2 L1762.0 1639.1 L1765.6 1639.1 L1769.7 1639.1 L1773.4 1635.1 L1777.6 1625.6 L1779.8 1617.8 L1782.2 1617.8 L1785.1 1627.9 L1788.3 1635.8 L1792.9 1637.4 L1796.5 1632.9 L1800.1 1632.9 L1804.9 1632.9 L1808.8 1638.5 L1813.4 1635.8 L1817.3 1624.1 L1820.5 1614.8 L1821.5 1617.7 L1825.0 1626.9 L1829.2 1636.2 L1833.8 1633.6 L1837.8 1633.6 L1842.2 1633.6 L1846.5 1631.3 L1849.8 1631.0 L1852.3 1630.7 L1854.2 1630.9 L1858.3 1636.7 L1862.0 1638.7 L1865.3 1638.7 L1869.9 1639.9 L1873.8 1639.9 L1878.2 1639.9 L1882.8 1626.2 L1887.1 1606.7 L1888.3 1595.8 L1890.7 1595.8 L1891.8 1606.0 L1895.6 1628.1 L1898.9 1636.2 L1901.3 1636.2 L1904.0 1614.4 L1906.5 1593.5 L1908.9 1593.5 L1913.3 1622.2 L1916.7 1634.7 L1920.1 1632.4 L1923.6 1624.3 L1928.4 1604.0 L1928.6 1598.1 L1931.0 1598.1 L1932.3 1609.3 L1936.5 1628.0 L1939.0 1633.6 L1941.4 1633.6 L1944.2 1628.6 L1948.0 1615.4 L1948.3 1610.2 L1950.7 1610.2 L1951.8 1618.1 L1954.7 1633.1 L1957.1 1633.1 L1960.0 1628.3 L1964.7 1582.5 L1965.7 1560.1 L1968.1 1560.1 L1969.0 1578.1 L1972.4 1619.8 L1974.8 1619.8 L1978.2 1614.0 L1978.6 1609.5 L1981.0 1609.5 L1983.0 1620.1 L1987.3 1634.6 L1990.7 1631.2 L1997.8 1626.2 L2000.2 1626.2 L2001.4 1639.5 L2003.8 1639.5 L2007.3 1626.0 L2007.5 1621.6 L2009.9 1621.6 L2010.7 1628.8 L2015.0 1644.3 L2018.4 1650.2 L2022.0 1648.9 L2026.8 1648.9 L2030.3 1648.9 L2034.5 1652.5 L2038.5 1652.5 L2042.4 1642.2 L2046.4 1627.2 L2046.5 1623.1 L2048.8 1623.1 L2049.9 1628.9 L2054.4 1644.2 L2057.8 1651.7 L2061.3 1651.7 L2064.6 1651.7 L2068.2 1653.8 L2072.0 1641.7 L2075.2 1626.9 L2077.6 1626.9 L2080.5 1636.9 L2083.9 1644.1 L2087.5 1641.4 L2088.6 1640.6 L2092.3 1643.2 L2095.6 1645.2 L2100.7 1643.6 L2103.6 1644.9 L2107.8 1646.7 L2111.6 1647.1 L2115.9 1649.1 L2119.9 1649.1 L2124.1 1649.1 L2128.8 1650.6 L2132.9 1650.6 L2136.3 1650.6 L2139.6 1651.3 L2144.3 1649.1 L2146.3 1648.2 L2148.3 1649.2 L2151.8 1648.6 L2156.5 1642.4 L2160.2 1632.3 L2162.6 1632.3 L2165.0 1641.9 L2168.4 1652.3 L2170.8 1652.3 L2173.3 1646.9 L2176.6 1642.1 L2181.7 1644.6 L2185.1 1646.0 L2189.5 1652.7 L2192.9 1652.7 L2197.2 1651.3 L2201.5 1644.9 L2203.9 1643.6 L2206.2 1644.8 L2210.8 1647.1 L2214.8 1649.1 L2219.1 1644.4 L2221.7 1647.2 L2225.8 1645.9 L2229.8 1646.0 L2233.1 1644.0 L2237.3 1641.4 L2241.8 1648.2 L2246.1 1648.4 L2249.5 1644.4 L2253.2 1648.0 L2256.4 1651.1 L2260.2 1653.9 L2263.8 1653.9 L2267.7 1653.9 L2271.5 1650.6 L2276.0 1650.6 L2280.7 1650.6 L2284.1 1647.4 L2288.0 1647.4 L2291.4 1647.4 L2294.5 1652.4 L2296.9 1652.4 L2300.5 1646.4 L2302.6 1643.6 L2304.0 1645.4 L2308.4 1644.1 L2312.1 1632.0 L2313.6 1623.1 L2316.0 1623.1 L2319.7 1637.8 L2323.5 1646.7 L2327.0 1646.7 L2330.8 1650.8 L2334.4 1650.2 L2338.3 1642.3 L2340.9 1634.5 L2343.3 1634.5 L2346.1 1642.2 L2350.2 1650.0 L2353.9 1649.8" fill="none" stroke="#00f" stroke-width="13.5" stroke-linejoin="round" stroke-linecap="round"/>
<path d="M323.5 1655.5 L700.0 1655.0 L960.0 1654.0 L1080.0 1652.5 L1200.0 1651.7 L1250.0 1650.0 L1280.0 1646.0 L1301.6 1641.1 L1339.5 1637.3 L1400.0 1617.0 L1424.9 1604.7 L1449.1 1589.7 L1472.1 1575.9 L1495.2 1562.1 L1518.2 1543.7 L1541.3 1524.1 L1564.3 1503.3 L1584.2 1480.0 L1598.8 1457.0 L1611.9 1439.3 L1639.5 1396.1 L1663.7 1356.3 L1689.6 1314.8 L1715.6 1266.4 L1738.0 1223.2 L1757.1 1193.8 L1760.7 1190.3 L1781.5 1157.2 L1802.2 1124.0 L1827.1 1090.8 L1856.1 1063.8 L1885.2 1030.7 L1916.3 1003.7 L1947.4 980.9 L1978.5 956.0 L2001.3 946.0 L2030.3 943.5 L2060.0 943.8 L2355.5 943.6" fill="none" stroke="#000" stroke-width="10.5" stroke-linejoin="round" stroke-linecap="round"/>
<path d="M323.5 1655.5 L500.0 1655.3 L680.0 1654.0 L780.0 1653.0 L960.0 1652.5 L1080.0 1651.5 L1130.0 1647.4 L1180.0 1638.5 L1230.0 1630.8 L1263.6 1620.3 L1301.6 1605.1 L1339.5 1576.6 L1380.0 1547.1 L1403.0 1525.2 L1426.1 1504.5 L1449.1 1482.6 L1472.1 1463.0 L1489.4 1440.0 L1497.6 1423.2 L1536.7 1364.4 L1575.9 1293.9 L1585.5 1278.6 L1598.4 1247.3 L1613.2 1214.1 L1627.9 1182.8 L1642.7 1145.9 L1657.4 1109.0 L1672.2 1075.9 L1686.9 1044.5 L1710.1 1000.2 L1727.9 940.3 L1748.2 889.6 L1768.5 844.0 L1788.7 803.4 L1809.0 770.4 L1831.8 737.5 L1852.1 709.6 L1862.8 696.0 L1880.7 670.7 L1901.5 639.0 L1922.2 612.7 L1942.9 589.2 L1963.7 565.7 L1984.4 546.3 L2005.1 535.3 L2019.0 532.5 L2060.0 532.5 L2355.5 532.5" fill="none" stroke="#f00" stroke-width="10.5" stroke-linejoin="round" stroke-linecap="round"/>
<path d="M323.5 1655.0 L400.0 1654.5 L500.0 1653.5 L600.0 1652.5 L680.0 1650.0 L730.0 1646.5 L780.0 1643.0 L890.0 1640.0 L960.0 1637.3 L998.0 1635.4 L1035.9 1630.7 L1073.9 1625.0 L1111.8 1617.4 L1149.8 1603.2 L1187.7 1588.0 L1225.6 1563.3 L1263.6 1534.9 L1305.5 1475.1 L1324.0 1453.0 L1346.1 1427.1 L1364.6 1399.5 L1383.0 1371.8 L1403.3 1342.3 L1421.7 1309.1 L1460.5 1235.3 L1475.2 1211.4 L1488.2 1180.0 L1510.0 1114.8 L1530.9 1069.8 L1550.4 1033.9 L1569.9 987.4 L1587.9 950.0 L1593.7 940.0 L1616.7 881.4 L1636.1 831.6 L1652.0 798.0 L1673.2 741.4 L1691.6 695.3 L1715.6 640.0 L1740.0 583.0 L1769.5 520.0 L1785.9 482.7 L1803.2 448.1 L1818.8 415.3 L1837.8 385.9 L1856.8 363.4 L1877.5 337.5 L1898.3 311.6 L1924.2 285.7 L1950.1 263.2 L1976.0 245.9 L2002.0 236.4 L2036.5 233.0 L2100.0 232.0 L2200.0 231.5 L2355.5 231.0" fill="none" stroke="#00f" stroke-width="10.5" stroke-linejoin="round" stroke-linecap="round"/>
<g stroke="#000" stroke-width="7" fill="none" stroke-linecap="round">
<rect x="323.5" y="70.5" width="2032" height="1623" stroke-linecap="butt" stroke-linejoin="miter"/>
<line x1="291.5" y1="1654.5" x2="323.5" y2="1654.5"/>
<line x1="291.5" y1="1258.5" x2="323.5" y2="1258.5"/>
<line x1="291.5" y1="862.5" x2="323.5" y2="862.5"/>
<line x1="291.5" y1="466.5" x2="323.5" y2="466.5"/>
<line x1="291.5" y1="70.5" x2="323.5" y2="70.5"/>
<line x1="308.5" y1="1456.5" x2="323.5" y2="1456.5"/>
<line x1="308.5" y1="1060.5" x2="323.5" y2="1060.5"/>
<line x1="308.5" y1="664.5" x2="323.5" y2="664.5"/>
<line x1="308.5" y1="268.5" x2="323.5" y2="268.5"/>
<line x1="323.5" y1="1693.5" x2="323.5" y2="1726"/>
<line x1="662.2" y1="1693.5" x2="662.2" y2="1726"/>
<line x1="1000.8" y1="1693.5" x2="1000.8" y2="1726"/>
<line x1="1339.5" y1="1693.5" x2="1339.5" y2="1726"/>
<line x1="1678.2" y1="1693.5" x2="1678.2" y2="1726"/>
<line x1="2016.8" y1="1693.5" x2="2016.8" y2="1726"/>
<line x1="2355.5" y1="1693.5" x2="2355.5" y2="1726"/>
<line x1="492.8" y1="1693.5" x2="492.8" y2="1709"/>
<line x1="831.5" y1="1693.5" x2="831.5" y2="1709"/>
<line x1="1170.2" y1="1693.5" x2="1170.2" y2="1709"/>
<line x1="1508.8" y1="1693.5" x2="1508.8" y2="1709"/>
<line x1="1847.5" y1="1693.5" x2="1847.5" y2="1709"/>
<line x1="2186.2" y1="1693.5" x2="2186.2" y2="1709"/>
</g>
<text transform="translate(270,1683.5) scale(1,1.040)" font-size="96" text-anchor="end">0</text>
<text transform="translate(270,1287.5) scale(1,1.040)" font-size="96" text-anchor="end">5</text>
<text transform="translate(270,891.5) scale(1,1.040)" font-size="96" text-anchor="end">10</text>
<text transform="translate(270,495.5) scale(1,1.040)" font-size="96" text-anchor="end">15</text>
<text transform="translate(270,99.5) scale(1,1.040)" font-size="96" text-anchor="end">20</text>
<text transform="translate(323.5,1823.5) scale(1,1.040)" font-size="96" text-anchor="middle">0</text>
<text transform="translate(662.2,1823.5) scale(1,1.040)" font-size="96" text-anchor="middle">20</text>
<text transform="translate(1000.8,1823.5) scale(1,1.040)" font-size="96" text-anchor="middle">40</text>
<text transform="translate(1339.5,1823.5) scale(1,1.040)" font-size="96" text-anchor="middle">60</text>
<text transform="translate(1678.2,1823.5) scale(1,1.040)" font-size="96" text-anchor="middle">80</text>
<text transform="translate(2016.8,1823.5) scale(1,1.040)" font-size="96" text-anchor="middle">100</text>
<text transform="translate(2355.5,1823.5) scale(1,1.040)" font-size="96" text-anchor="middle">120</text>
<text transform="translate(1036,1978) scale(1,1.040)" font-size="111.5">Height (mm)</text>
<text transform="translate(129,1705) rotate(-90) scale(1,1.05)" font-size="110.3">Intensity of OH-PLIF signal (<tspan x="1373.3" font-family="DejaVu Sans" font-weight="200" font-size="102">×</tspan><tspan x="1447.2">10</tspan><tspan x="1569.5" dy="-52" font-size="66">3</tspan><tspan x="1608.9" dy="52">)</tspan></text>
<line x1="558.5" y1="194.4" x2="690.5" y2="194.4" stroke="#000" stroke-width="13" stroke-linecap="round"/>
<text transform="translate(707,215.0) scale(1,1.04)" font-size="59">DB1</text>
<line x1="558.5" y1="266.4" x2="690.5" y2="266.4" stroke="#f00" stroke-width="13" stroke-linecap="round"/>
<text transform="translate(707,286.6) scale(1,1.04)" font-size="59">DB2</text>
<line x1="558.5" y1="338.2" x2="690.5" y2="338.2" stroke="#00f" stroke-width="13" stroke-linecap="round"/>
<text transform="translate(707,358.7) scale(1,1.04)" font-size="59">DB3</text>
<line x1="1215" y1="181.3" x2="1337" y2="181.3" stroke="#000" stroke-width="11" stroke-linecap="round" stroke-dasharray="12 24.3"/>
<text transform="translate(1361,202.6) scale(1,1.04)" font-size="59">Integration of DB1</text>
<line x1="1215" y1="253.8" x2="1337" y2="253.8" stroke="#f00" stroke-width="11" stroke-linecap="round" stroke-dasharray="12 24.3"/>
<text transform="translate(1361,275.1) scale(1,1.04)" font-size="59">Integration of DB2</text>
<line x1="1215" y1="326.0" x2="1337" y2="326.0" stroke="#00f" stroke-width="11" stroke-linecap="round" stroke-dasharray="12 24.3"/>
<text transform="translate(1361,346.6) scale(1,1.04)" font-size="59">Integration of DB3</text>
</svg></body></html>
